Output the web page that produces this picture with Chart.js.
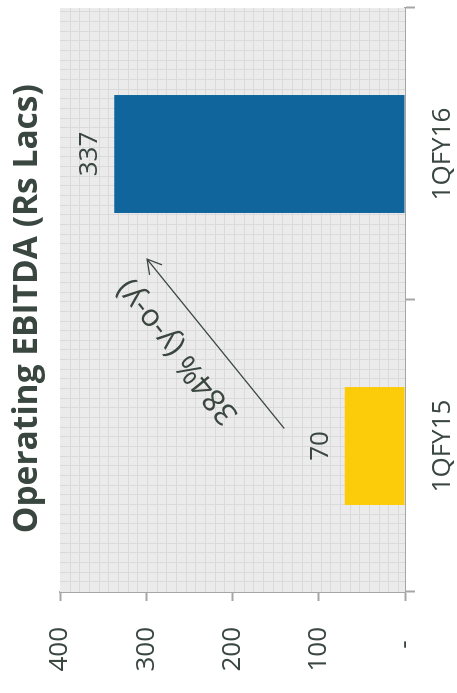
<!DOCTYPE html>
<html><head><meta charset="utf-8">
<script src="https://cdn.jsdelivr.net/npm/chart.js@4"></script>
<style>
html,body{margin:0;padding:0;background:#fff;overflow:hidden;width:457px;height:693px;}
#wrap{position:absolute;left:0;top:0;width:693px;height:457px;transform-origin:0 0;transform:translate(0,693px) rotate(-90deg);}
</style></head><body>
<div id="wrap"><canvas id="c" width="693" height="457"></canvas></div>
<script>
const categories = ['1QFY15', '1QFY16'];
const ebitda = [70, 337];
const barColors = ['#fccc0a', '#0f659c'];
const valueTickLabels = ['-  ', '100', '200', '300', '400'];
const chartTitle = 'Operating EBITDA (Rs Lacs)  ';
const growthLabel = '384% (y-o-y)';
// arrow annotation in data units: [category index, value]
const arrowFrom = [0.06, 140];
const arrowTo = [0.64, 299];

const TEXT = '#3a4640';
const FONT = "'Open Sans', sans-serif";
Chart.defaults.font.family = FONT;
Chart.defaults.color = TEXT;

const gridPattern = {
  id: 'gridPattern',
  beforeDatasetsDraw(chart) {
    const {ctx, chartArea: a} = chart;
    ctx.save();
    ctx.fillStyle = '#ebebeb';
    ctx.fillRect(a.left, a.top, a.right - a.left, a.bottom - a.top);
    ctx.strokeStyle = '#dadada';
    ctx.lineWidth = 1;
    const s = 9.66;
    ctx.beginPath();
    for (let x = a.left + s; x < a.right; x += s) {
      const px = Math.round(x) + 0.5;
      ctx.moveTo(px, a.top); ctx.lineTo(px, a.bottom);
    }
    for (let y = a.top + s; y < a.bottom; y += s) {
      const py = Math.round(y) + 0.5;
      ctx.moveTo(a.left, py); ctx.lineTo(a.right, py);
    }
    ctx.stroke();
    ctx.restore();
  }
};

const valueLabels = {
  id: 'valueLabels',
  afterDatasetsDraw(chart) {
    const {ctx} = chart;
    const meta = chart.getDatasetMeta(0);
    ctx.save();
    ctx.fillStyle = TEXT;
    ctx.font = "26px " + FONT;
    ctx.textAlign = 'center';
    ctx.textBaseline = 'alphabetic';
    meta.data.forEach((bar, i) => {
      ctx.fillText(String(ebitda[i]), bar.x, bar.y - 17);
    });
    ctx.restore();
  }
};

const growthArrow = {
  id: 'growthArrow',
  afterDatasetsDraw(chart) {
    const {ctx, scales: {x, y}} = chart;
    const x1 = x.getPixelForValue(arrowFrom[0]), y1 = y.getPixelForValue(arrowFrom[1]);
    const x2 = x.getPixelForValue(arrowTo[0]), y2 = y.getPixelForValue(arrowTo[1]);
    const ang = Math.atan2(y2 - y1, x2 - x1);
    ctx.save();
    ctx.strokeStyle = '#3d4843';
    ctx.lineWidth = 1.3;
    ctx.beginPath();
    ctx.moveTo(x1, y1); ctx.lineTo(x2, y2);
    const L = 16, h = Math.PI / 6;
    ctx.moveTo(x2 - L * Math.cos(ang - h), y2 - L * Math.sin(ang - h));
    ctx.lineTo(x2, y2);
    ctx.lineTo(x2 - L * Math.cos(ang + h), y2 - L * Math.sin(ang + h));
    ctx.stroke();
    ctx.translate((x1 + x2) / 2, (y1 + y2) / 2);
    ctx.rotate(ang);
    ctx.fillStyle = TEXT;
    ctx.font = "31px " + FONT;
    ctx.textAlign = 'center';
    ctx.textBaseline = 'middle';
    ctx.fillText(growthLabel, 18, -35);
    ctx.restore();
  }
};

new Chart(document.getElementById('c'), {
  type: 'bar',
  data: {
    labels: categories,
    datasets: [{
      data: ebitda,
      backgroundColor: barColors,
      borderWidth: 0,
      barPercentage: 0.404,
      categoryPercentage: 1
    }]
  },
  options: {
    responsive: false,
    animation: false,
    devicePixelRatio: 1,
    layout: { padding: { left: 0, right: 8, top: 0, bottom: 0 } },
    plugins: {
      legend: { display: false },
      tooltip: { enabled: false },
      title: {
        display: true,
        text: chartTitle,
        fullSize: false,
        color: TEXT,
        font: { size: 33.5, weight: 'bold', family: FONT, lineHeight: 1.2 },
        padding: { top: 7, bottom: 12.8 }
      }
    },
    scales: {
      x: {
        offset: true,
        afterFit(s) { s.height = 52; },
        border: { display: true, color: '#a6a6a6', width: 2 },
        grid: { offset: true, drawOnChartArea: false, drawTicks: true, tickLength: 10, tickColor: '#a6a6a6', tickWidth: 2 },
        ticks: { color: TEXT, font: { size: 26 }, padding: 12, maxRotation: 0 }
      },
      y: {
        min: 0, max: 400,
        afterFit(s) { s.width = 101; },
        border: { display: true, color: '#a6a6a6', width: 2 },
        grid: { drawOnChartArea: false, drawTicks: true, tickLength: 9, tickColor: '#a6a6a6', tickWidth: 2 },
        ticks: {
          stepSize: 100, color: TEXT, font: { size: 26 }, padding: 26,
          callback: (v, i) => valueTickLabels[i]
        }
      }
    }
  },
  plugins: [gridPattern, valueLabels, growthArrow]
});
</script>
</body></html>
